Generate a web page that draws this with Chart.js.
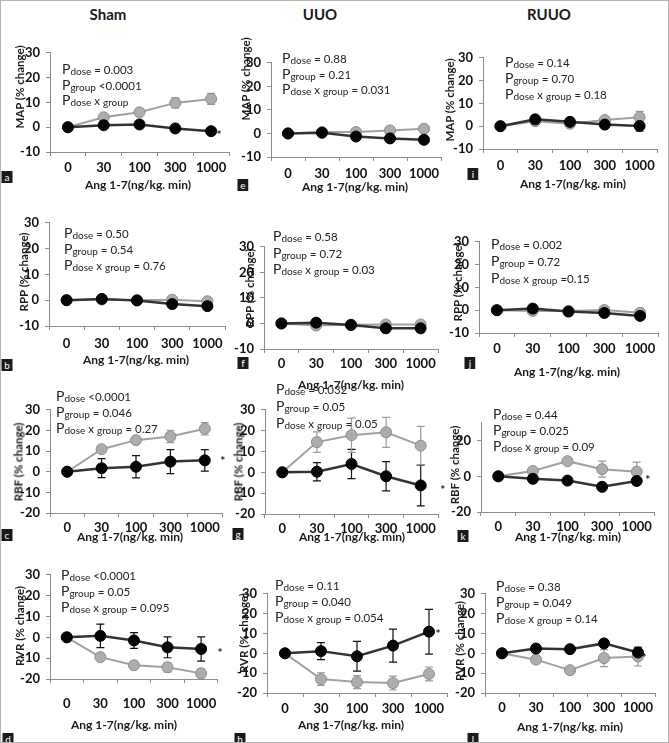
<!DOCTYPE html>
<html>
<head>
<meta charset="utf-8">
<script src="https://cdn.jsdelivr.net/npm/chart.js@4.4.0/dist/chart.umd.min.js"></script>
<style>
  html, body { margin: 0; padding: 0; background: #fff; }
  #fig { position: relative; width: 669px; height: 743px; box-sizing: border-box; border: 1px solid #b4b4b4;
         overflow: hidden; font-family: Lato, "Open Sans", sans-serif; color: #1a1a1a; }
  #fig canvas { position: absolute; }
  .col-title { position: absolute; font-weight: bold; font-size: 15px; transform: translate(-50%, -50%); white-space: nowrap; }
  .xt { position: absolute; font-weight: bold; font-size: 12px; transform: translate(-50%, -50%); white-space: nowrap; }
  .yt { position: absolute; font-weight: bold; font-size: 11.5px; transform: translate(-50%, -50%) rotate(-90deg); white-space: nowrap; }
  .pv { position: absolute; font-size: 11.5px; line-height: 16px; white-space: nowrap; color: #222; }
  .pv b { font-weight: normal; font-size: 14px; }
  .pv sub { font-size: 10px; vertical-align: -1px; }
  .tag { position: absolute; width: 11px; height: 12px; background: #1a1a1a; color: #fff; font-size: 10px;
         line-height: 12px; text-align: center; transform: translate(-50%, -50%); }
</style>
</head>
<body>
<div id="fig"></div>
<script>
// dose levels (x categories)
const doses = ['0', '30', '100', '300', '1000'];

// --- Sham ---
const mapShamBlack = [0, 0.8, 1.1, -0.5, -1.6];
const mapShamBlackErr = [0.4, 0.8, 0.8, 1.0, 1.2];
const mapShamGray = [0, 4.0, 6.0, 9.8, 11.4];
const mapShamGrayErr = [0.4, 0.8, 1.0, 2.0, 2.2];

const rppShamBlack = [0, 0.5, -0.1, -1.5, -2.3];
const rppShamBlackErr = [0.3, 0.6, 0.6, 0.8, 1.0];
const rppShamGray = [0, 0.3, 0, 0.2, -0.4];
const rppShamGrayErr = [0.3, 0.6, 0.6, 0.8, 0.8];

const rbfShamBlack = [0, 1.7, 2.4, 4.9, 5.5];
const rbfShamBlackErr = [0.5, 4.6, 5.4, 5.8, 5.2];
const rbfShamGray = [0, 10.9, 15.3, 17.1, 20.8];
const rbfShamGrayErr = [0.5, 1.0, 1.5, 3.0, 3.0];

const rvrShamBlack = [0, 0.7, -1.5, -4.8, -5.6];
const rvrShamBlackErr = [0.5, 5.6, 3.8, 5.0, 5.8];
const rvrShamGray = [0, -9.5, -13.4, -14.4, -17.3];
const rvrShamGrayErr = [0.5, 1.0, 1.5, 2.2, 2.0];

// --- UUO ---
const mapUuoBlack = [0, 0.3, -1.3, -2.1, -2.7];
const mapUuoBlackErr = [0.3, 0.8, 1.0, 1.0, 1.2];
const mapUuoGray = [0, 0.6, 0.6, 1.3, 2.0];
const mapUuoGrayErr = [0.3, 0.6, 0.8, 0.8, 1.0];

const rppUuoBlack = [0, 0.3, -0.6, -1.9, -1.9];
const rppUuoBlackErr = [0.3, 0.5, 0.6, 0.8, 0.8];
const rppUuoGray = [0, -0.8, -0.5, -0.4, -0.4];
const rppUuoGrayErr = [0.3, 0.6, 0.6, 0.8, 0.8];

const rbfUuoBlack = [0, 0.3, 4.0, -1.9, -6.3];
const rbfUuoBlackErr = [0.5, 4.4, 7.0, 7.0, 9.8];
const rbfUuoGray = [0, 14.5, 17.8, 19.2, 12.8];
const rbfUuoGrayErr = [0.5, 4.9, 8.2, 7.2, 9.2];

const rvrUuoBlack = [0, 1.1, -1.5, 3.9, 10.9];
const rvrUuoBlackErr = [0.5, 4.3, 7.5, 8.3, 11.3];
const rvrUuoGray = [0, -13.0, -14.5, -15.0, -10.4];
const rvrUuoGrayErr = [0.5, 3.2, 3.3, 3.5, 3.5];

// --- RUUO ---
const mapRuuoBlack = [0, 3.0, 1.9, 0.7, 0.1];
const mapRuuoBlackErr = [0.3, 1.0, 1.0, 1.2, 2.2];
const mapRuuoGray = [0, 2.2, 1.1, 2.7, 3.9];
const mapRuuoGrayErr = [0.3, 1.0, 1.0, 1.5, 2.6];

const rppRuuoBlack = [0, 0.7, -0.6, -1.2, -2.5];
const rppRuuoBlackErr = [0.3, 0.6, 0.6, 0.7, 0.8];
const rppRuuoGray = [0, -0.3, -0.3, 0.1, -1.1];
const rppRuuoGrayErr = [0.3, 0.6, 0.6, 0.7, 0.8];

const rbfRuuoBlack = [0, -1.4, -2.4, -5.9, -2.6];
const rbfRuuoBlackErr = [0.4, 0.8, 0.8, 1.0, 1.0];
const rbfRuuoGray = [0, 3.0, 8.5, 4.0, 2.6];
const rbfRuuoGrayErr = [0.4, 1.0, 1.2, 4.5, 5.4];

const rvrRuuoBlack = [0, 2.4, 2.1, 5.0, 0.4];
const rvrRuuoBlackErr = [0.3, 1.0, 1.0, 1.0, 2.6];
const rvrRuuoGray = [0, -3.2, -8.5, -2.4, -1.6];
const rvrRuuoGrayErr = [0.3, 1.2, 1.0, 4.3, 4.8];

// P values per panel: [dose, group, dose x group]
const pShamMAP = ['= 0.003', '<0.0001', ''];
const pShamRPP = [' = 0.50', ' = 0.54', ' = 0.76'];
const pShamRBF = ['<0.0001', '= 0.046', ' = 0.27'];
const pShamRVR = [' <0.0001', ' = 0.05', ' = 0.095'];
const pUuoMAP = ['= 0.88', '= 0.21', ' = 0.031'];
const pUuoRPP = [' = 0.58', ' = 0.72', ' = 0.03'];
const pUuoRBF = ['= 0.032', ' = 0.05', ' = 0.05'];
const pUuoRVR = [' = 0.11', ' = 0.040', ' = 0.054'];
const pRuuoMAP = ['= 0.14', ' = 0.70', ' = 0.18'];
const pRuuoRPP = [' = 0.002', ' = 0.72', ' =0.15'];
const pRuuoRBF = [' = 0.44', '= 0.025', ' = 0.09'];
const pRuuoRVR = [' = 0.38', ' = 0.049', ' = 0.14'];

const columnTitles = ['Sham', 'UUO', 'RUUO'];
const xTitle = 'Ang 1-7(ng/kg. min)';

const FONT = 'Lato, "Open Sans", sans-serif';
const AXIS = '#8c8c8c';
const YW = 44;   // fixed y-axis box width
const XH = 40;   // fixed x-axis box height

// layout of each panel (plot area edges in page pixels, label spots)
const panels = [
  { tag: 'a', yLabel: 'MAP (% change)', black: mapShamBlack, blackErr: mapShamBlackErr, gray: mapShamGray, grayErr: mapShamGrayErr, p: pShamMAP,
    L: 49, R: 228, T: 48, B: 151, min: -10, padX: 4, yt: [18, 86], xt: [137, 183], tg: [6, 176], pv: [61, 68, 15.5], star: [8, 2] },
  { tag: 'b', yLabel: 'RPP (% change)', black: rppShamBlack, blackErr: rppShamBlackErr, gray: rppShamGray, grayErr: rppShamGrayErr, p: pShamRPP,
    L: 48, R: 224, T: 218, B: 325, min: -10, padX: 6, yt: [22, 271], xt: [135, 358], tg: [6, 364], pv: [63, 232, 16], star: null },
  { tag: 'c', yLabel: 'RBF (% change)', black: rbfShamBlack, blackErr: rbfShamBlackErr, gray: rbfShamGray, grayErr: rbfShamGrayErr, p: pShamRBF,
    L: 49, R: 221, T: 405, B: 512, min: -20, padX: 3, yt: [17, 461], xt: [129, 535], tg: [6, 534], pv: [55, 395, 16], star: [18, -1] },
  { tag: 'd', yLabel: 'RVR (% change)', black: rvrShamBlack, blackErr: rvrShamBlackErr, gray: rvrShamGray, grayErr: rvrShamGrayErr, p: pShamRVR,
    L: 49, R: 221, T: 570, B: 678, min: -20, padX: 13, yt: [18, 625], xt: [123, 723], tg: [7, 738], pv: [60, 574, 16], star: [19, 2] },
  { tag: 'e', yLabel: 'MAP (% change)', black: mapUuoBlack, blackErr: mapUuoBlackErr, gray: mapUuoGray, grayErr: mapUuoGrayErr, p: pUuoMAP,
    L: 270, R: 440, T: 58, B: 156, min: -10, padX: 5, yt: [244, 78], xt: [354, 185], tg: [242, 184], pv: [281, 57, 15.5], star: null },
  { tag: 'f', yLabel: 'RPP (% change)', black: rppUuoBlack, blackErr: rppUuoBlackErr, gray: rppUuoGray, grayErr: rppUuoGrayErr, p: pUuoRPP,
    L: 263, R: 437, T: 242, B: 348, min: -10, padX: 3, yt: [248, 287], xt: [350, 383], tg: [242, 362], pv: [272, 235, 16.5], star: null },
  { tag: 'g', yLabel: 'RBF (% change)', black: rbfUuoBlack, blackErr: rbfUuoBlackErr, gray: rbfUuoGray, grayErr: rbfUuoGrayErr, p: pUuoRBF,
    L: 264, R: 437, T: 405, B: 513, min: -20, padX: 3, yt: [237, 461], xt: [351, 535], tg: [237, 533], pv: [275, 388, 17], star: [22, 3] },
  { tag: 'h', yLabel: 'RVR (% change)', black: rvrUuoBlack, blackErr: rvrUuoBlackErr, gray: rvrUuoGray, grayErr: rvrUuoGrayErr, p: pUuoRVR,
    L: 266, R: 446, T: 589, B: 692, min: -20, padX: 4, yt: [242, 632], xt: [350, 723], tg: [239, 738], pv: [274, 584, 16], star: [9, 0] },
  { tag: 'i', yLabel: 'MAP (% change)', black: mapRuuoBlack, blackErr: mapRuuoBlackErr, gray: mapRuuoGray, grayErr: mapRuuoGrayErr, p: pRuuoMAP,
    L: 482, R: 656, T: 53, B: 148, min: -10, padX: 5, yt: [448, 99], xt: [572, 182], tg: [472, 173], pv: [504, 61, 16], star: null },
  { tag: 'j', yLabel: 'RPP (% change)', black: rppRuuoBlack, blackErr: rppRuuoBlackErr, gray: rppRuuoGray, grayErr: rppRuuoGrayErr, p: pRuuoRPP,
    L: 478, R: 657, T: 237, B: 332, min: -10, padX: 4, yt: [456, 281], xt: [566, 370], tg: [469, 362], pv: [490, 243, 17], star: null },
  { tag: 'k', yLabel: 'RBF (% change)', black: rbfRuuoBlack, blackErr: rbfRuuoBlackErr, gray: rbfRuuoGray, grayErr: rbfRuuoGrayErr, p: pRuuoRBF,
    L: 480, R: 653, T: 418, B: 511, min: -20, padX: 3, yt: [453, 464], xt: [567, 535], tg: [462, 535], pv: [492, 413, 16], star: [11, -3] },
  { tag: 'l', yLabel: 'RVR (% change)', black: rvrRuuoBlack, blackErr: rvrRuuoBlackErr, gray: rvrRuuoGray, grayErr: rvrRuuoGrayErr, p: pRuuoRVR,
    L: 484, R: 654, T: 589, B: 692, min: -20, padX: 3, yt: [458, 640], xt: [569, 725], tg: [472, 738], pv: [495, 585, 16], star: [6, 4] }
];

const fig = document.getElementById('fig');

function addDiv(cls, html, x, y) {
  const d = document.createElement('div');
  d.className = cls;
  d.innerHTML = html;
  d.style.left = x + 'px';
  d.style.top = y + 'px';
  fig.appendChild(d);
  return d;
}

// column headers
[[107, 13], [319, 13], [548, 13]].forEach((pos, i) => addDiv('col-title', columnTitles[i], pos[0], pos[1]));

// error bars drawn behind the markers, through the y scale
const errorBars = {
  id: 'errorBars',
  beforeDatasetsDraw(chart) {
    const ctx = chart.ctx;
    const y = chart.scales.y;
    chart.data.datasets.forEach((ds, i) => {
      const meta = chart.getDatasetMeta(i);
      ctx.save();
      ctx.strokeStyle = ds.errColor;
      ctx.lineWidth = 1.2;
      meta.data.forEach((pt, j) => {
        const e = ds.errors[j];
        if (!e) return;
        const top = y.getPixelForValue(ds.data[j] + e);
        const bot = y.getPixelForValue(ds.data[j] - e);
        ctx.beginPath();
        ctx.moveTo(pt.x, top); ctx.lineTo(pt.x, bot);
        ctx.moveTo(pt.x - 4, top); ctx.lineTo(pt.x + 4, top);
        ctx.moveTo(pt.x - 4, bot); ctx.lineTo(pt.x + 4, bot);
        ctx.stroke();
      });
      ctx.restore();
    });
  }
};

function starPlugin(offset) {
  return {
    id: 'star',
    afterDatasetsDraw(chart) {
      if (!offset) return;
      const pts = chart.getDatasetMeta(0).data;
      const last = pts[pts.length - 1];
      const ctx = chart.ctx;
      ctx.save();
      ctx.fillStyle = '#1a1a1a';
      ctx.font = 'bold 12px ' + FONT;
      ctx.textAlign = 'center';
      ctx.textBaseline = 'middle';
      ctx.fillText('*', last.x + offset[0], last.y + offset[1] + 2);
      ctx.restore();
    }
  };
}

panels.forEach(p => {
  const canvas = document.createElement('canvas');
  const w = (p.R - p.L) + YW + 8;
  const h = (p.B - p.T) + 10 + XH;
  canvas.width = w;
  canvas.height = h;
  canvas.style.left = (p.L - YW) + 'px';
  canvas.style.top = (p.T - 10) + 'px';
  canvas.style.width = w + 'px';
  canvas.style.height = h + 'px';
  fig.appendChild(canvas);

  new Chart(canvas, {
    type: 'line',
    data: {
      labels: doses,
      datasets: [
        {
          data: p.black, errors: p.blackErr, errColor: '#111',
          borderColor: '#333', borderWidth: 2.5,
          pointBackgroundColor: '#050505', pointBorderColor: '#000', pointBorderWidth: 1, pointRadius: 5.5,
          tension: 0
        },
        {
          data: p.gray, errors: p.grayErr, errColor: '#9a9a9a',
          borderColor: '#a0a0a0', borderWidth: 2,
          pointBackgroundColor: '#adadad', pointBorderColor: '#8c8c8c', pointBorderWidth: 1, pointRadius: 5.5,
          tension: 0
        }
      ]
    },
    options: {
      responsive: false,
      animation: false,
      devicePixelRatio: 1,
      layout: { padding: { left: 0, top: 10, right: 8, bottom: 0 } },
      plugins: { legend: { display: false }, tooltip: { enabled: false } },
      scales: {
        x: {
          type: 'category',
          offset: true,
          grid: { drawOnChartArea: false, drawTicks: true, tickLength: 4, offset: true, color: AXIS },
          border: { display: true, color: AXIS, width: 1 },
          ticks: { color: '#111', font: { family: FONT, size: 13, weight: 'bold' }, padding: p.padX, maxRotation: 0, autoSkip: false },
          afterFit: s => { s.height = XH; }
        },
        y: {
          min: p.min,
          max: 30,
          grid: { drawOnChartArea: false, drawTicks: true, tickLength: 4, color: AXIS },
          border: { display: true, color: AXIS, width: 1 },
          ticks: { stepSize: 10, color: '#111', font: { family: FONT, size: 13, weight: 'bold' }, padding: 6 },
          afterFit: s => { s.width = YW; }
        }
      }
    },
    plugins: [errorBars, starPlugin(p.star)]
  });

  // axis titles, panel tag, P-value annotations
  addDiv('yt', p.yLabel, p.yt[0], p.yt[1]);
  addDiv('xt', xTitle, p.xt[0], p.xt[1]);
  addDiv('tag', p.tag, p.tg[0], p.tg[1]);
  const lines = [
    '<b>P</b><sub>dose</sub> ' + p.p[0],
    '<b>P</b><sub>group</sub> ' + p.p[1],
    '<b>P</b><sub>dose</sub> x <sub>group</sub> ' + p.p[2]
  ];
  lines.forEach((t, i) => addDiv('pv', t, p.pv[0], p.pv[1] + i * p.pv[2] - 8));
});
</script>
</body>
</html>
